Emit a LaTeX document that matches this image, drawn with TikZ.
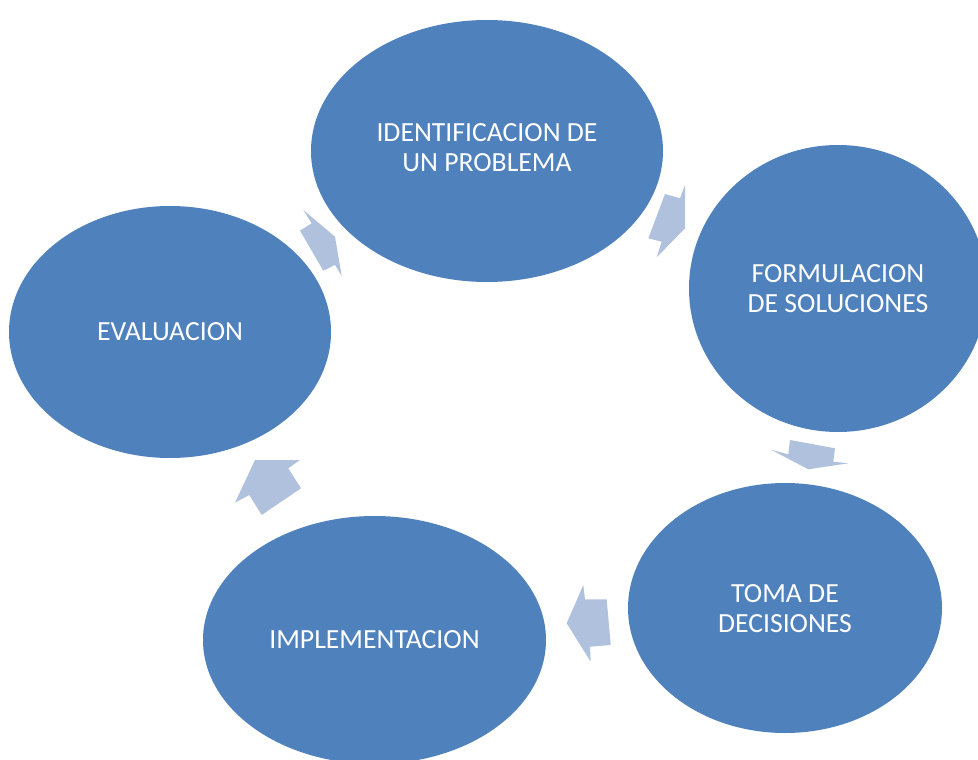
\documentclass[tikz,border=0pt]{standalone}
\usepackage{fontspec}
\setmainfont{Carlito}
\usetikzlibrary{shapes.geometric}
\definecolor{stepblue}{HTML}{4F81BD}
\definecolor{arrowblue}{HTML}{B0C1DE}
\tikzset{
  stage/.style={ellipse, fill=stepblue, draw=none, inner sep=0pt, text=white,
    align=center, font=\fontsize{27.7}{30}\selectfont},
  stagetext/.style={inner sep=0pt, text=white, align=center, font=\fontsize{27.7}{30}\selectfont},
  cyclearrow/.style={fill=arrowblue, draw=none}
}
\begin{document}
\begin{tikzpicture}[x=1pt, y=-1pt]
\useasboundingbox (0,0) rectangle (978,760);
\clip (0,0) rectangle (978,760);
% stages
\node[stage, minimum width=352pt, minimum height=262pt] (ident) at (487,151) {};
\node[stagetext, yshift=3pt] (identtext) at (ident.center) {IDENTIFICACION DE\\UN PROBLEMA};
\node[stage, minimum width=298pt, minimum height=287pt] (form) at (838,288.5) {FORMULACION\\DE SOLUCIONES};
\node[stage, minimum width=314pt, minimum height=250pt] (toma) at (785,608) {};
\node[stagetext, yshift=-1pt] (tomatext) at (toma.center) {TOMA DE\\DECISIONES};
\node[stage, minimum width=343pt, minimum height=248pt] (impl) at (374.5,640) {IMPLEMENTACION};
\node[stage, minimum width=322pt, minimum height=252pt] (eval) at (170,332) {EVALUACION};
% block arrows of the cycle
\fill[cyclearrow] (335,236.7) -- (303.3,210) -- (311.7,223.3) -- (300,230.7) -- (323.3,270.7) -- (335,265) -- (341.7,276) -- cycle;
\fill[cyclearrow] (685,228.3) -- (685,185) -- (680,198.3) -- (665,194) -- (648.3,238.3) -- (661.7,241.7) -- (656.7,257.3) -- cycle;
\fill[cyclearrow] (808.3,469.3) -- (771.7,450) -- (788.3,454.3) -- (790,440) -- (835,448.3) -- (833.3,461.7) -- (848.3,463.3) -- cycle;
\fill[cyclearrow] (566.7,623.3) -- (583.3,585) -- (585,599.3) -- (606.7,599.3) -- (610.7,645) -- (590,646.7) -- (590.7,661.7) -- cycle;
\fill[cyclearrow] (255,460) -- (300,460) -- (288.3,468.3) -- (301,488.3) -- (261.7,515) -- (249.3,495) -- (235,502.7) -- cycle;
\end{tikzpicture}
\end{document}
